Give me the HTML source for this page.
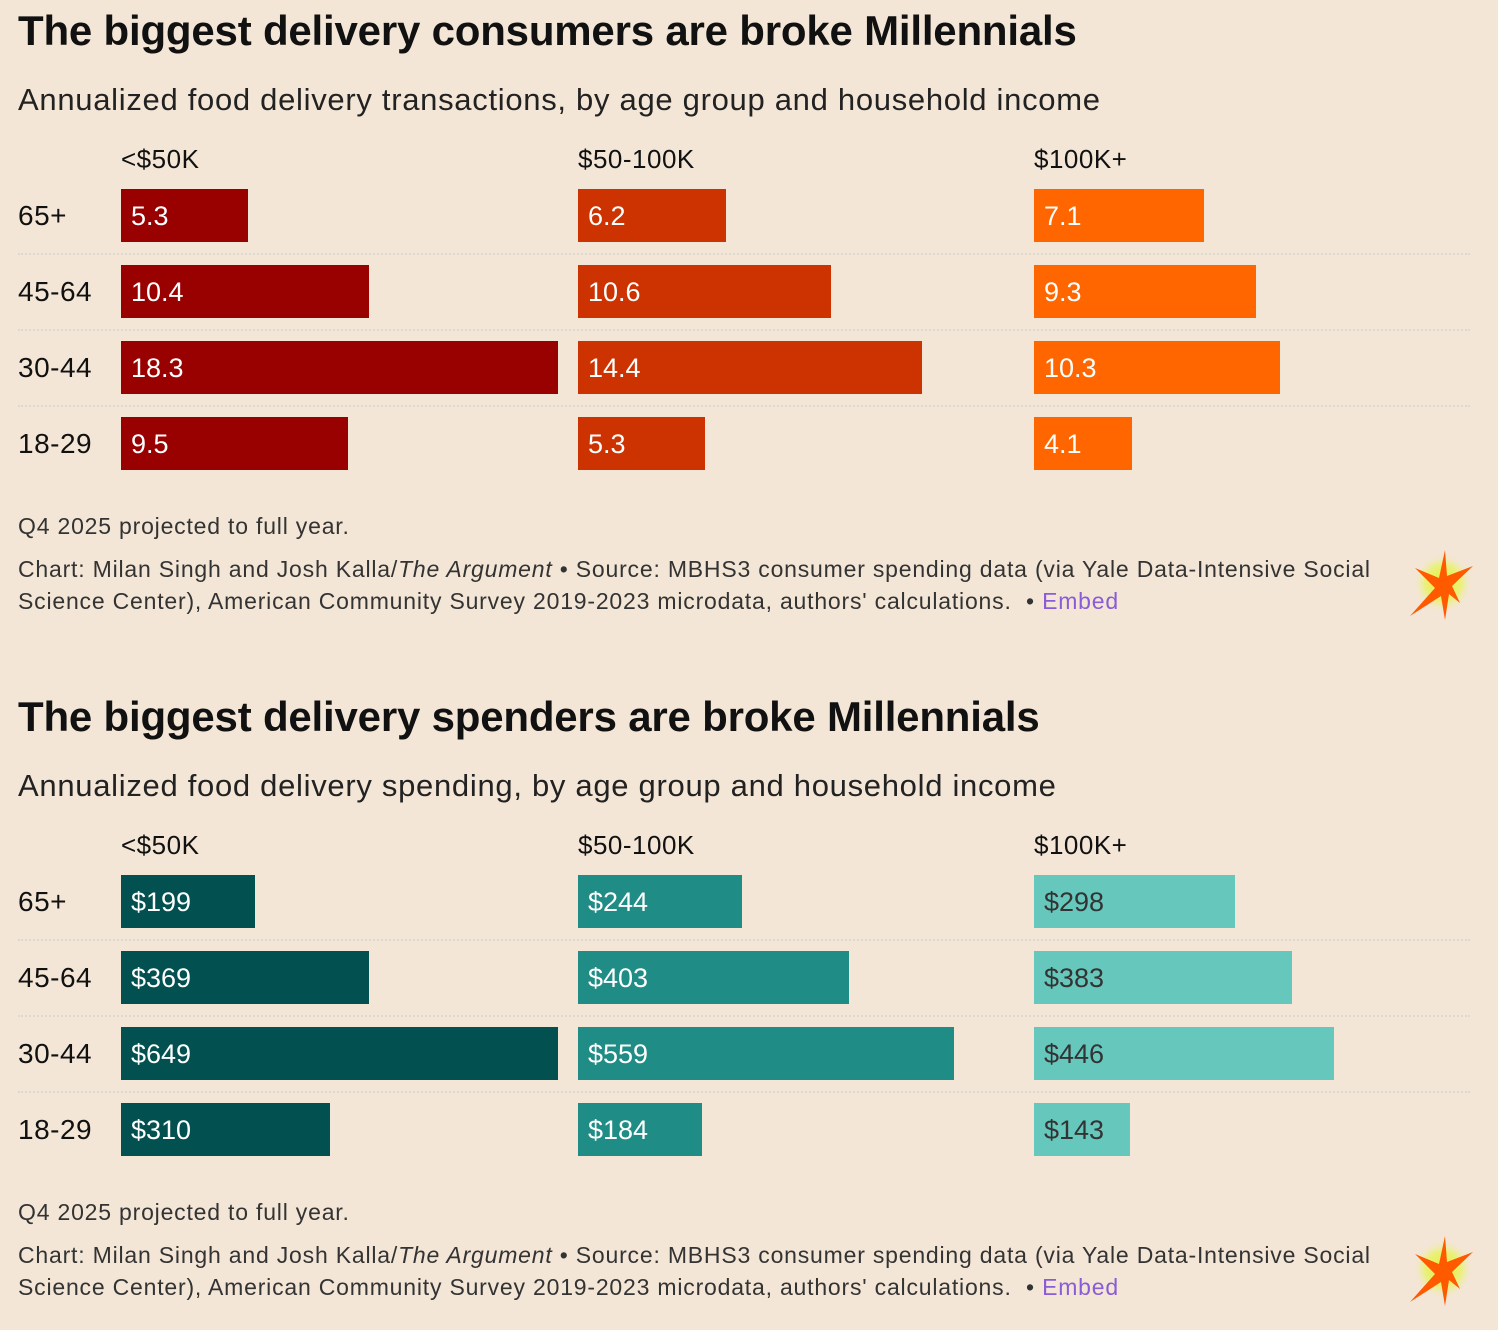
<!DOCTYPE html>
<html><head><meta charset="utf-8">
<style>
body{margin:0;width:1498px;height:1330px;background:#f3e6d6;font-family:"Liberation Sans",sans-serif;color:#111;position:relative;overflow:hidden}
.abs{position:absolute;white-space:nowrap}
h1{position:absolute;left:18px;margin:0;font-size:42px;font-weight:bold;letter-spacing:-0.2px}
.sub{position:absolute;left:18px;font-size:31px;color:#222;letter-spacing:0.7px}
.note{position:absolute;left:18px;font-size:23px;color:#333;line-height:32px;letter-spacing:0.8px}
.embed{color:#8a5cd6}
</style></head><body>
<div id="c1">
<h1 style="top:7px">The biggest delivery consumers are broke Millennials</h1>
<div class="sub" style="top:82px">Annualized food delivery transactions, by age group and household income</div>
<div class="note" style="top:510px">Q4 2025 projected to full year.</div>
<div class="note" style="top:553px">Chart: Milan Singh and Josh Kalla/<i>The Argument</i> • Source: MBHS3 consumer spending data (via Yale Data-Intensive Social<br>Science Center), American Community Survey 2019-2023 microdata, authors' calculations. &nbsp;• <span class="embed">Embed</span></div>
</div>
<div id="c2">
<h1 style="top:693px">The biggest delivery spenders are broke Millennials</h1>
<div class="sub" style="top:768px">Annualized food delivery spending, by age group and household income</div>
<div class="note" style="top:1196px">Q4 2025 projected to full year.</div>
<div class="note" style="top:1239px">Chart: Milan Singh and Josh Kalla/<i>The Argument</i> • Source: MBHS3 consumer spending data (via Yale Data-Intensive Social<br>Science Center), American Community Survey 2019-2023 microdata, authors' calculations. &nbsp;• <span class="embed">Embed</span></div>
</div>
<svg class="abs" style="left:1405px;top:548px" width="75" height="72"><defs><radialGradient id="g"><stop offset="0" stop-color="#e2f03a"/><stop offset="0.6" stop-color="#eaf07a"/><stop offset="1" stop-color="#f3e6d6" stop-opacity="0"/></radialGradient></defs><circle cx="38" cy="35" r="30" fill="url(#g)"/><polygon points="40,2 42,28 68,18 47,38 55,55 44,46 40,72 36,48 5,68 30,40 10,20 34,30" fill="#ff5a00"/></svg>
<svg class="abs" style="left:1405px;top:1234px" width="75" height="72"><circle cx="38" cy="35" r="30" fill="url(#g)"/><polygon points="40,2 42,28 68,18 47,38 55,55 44,46 40,72 36,48 5,68 30,40 10,20 34,30" fill="#ff5a00"/></svg>
<script>
const ages=["65+","45-64","30-44","18-29"];
const incomes=["<$50K","$50-100K","$100K+"];
const transactions=[[5.3,10.4,18.3,9.5],[6.2,10.6,14.4,5.3],[7.1,9.3,10.3,4.1]];
const spending=[[199,369,649,310],[244,403,559,184],[298,383,446,143]];
function build(root,offY,data,maxV,colors,textColors,fmt){
  const colX=[121,578,1034], maxW=437;
  const x=v=>v/maxV*maxW;
  const rowY=i=>offY+189+i*76;
  incomes.forEach((inc,c)=>{
    const h=document.createElement('div');h.className='abs';
    
    
    h.style.cssText=`left:${colX[c]}px;top:${offY+144}px;font-size:26px;letter-spacing:0.5px`;h.textContent=inc;root.appendChild(h);
  });
  ages.forEach((a,i)=>{
    const l=document.createElement('div');l.className='abs';
    
    
    l.style.cssText=`left:18px;top:${rowY(i)+11}px;font-size:28px;letter-spacing:0.5px`;l.textContent=a;root.appendChild(l);
    if(i<3){const d=document.createElement('div');d.className='abs';
      
      
      d.style.cssText=`left:18px;width:1452px;top:${rowY(i)+64}px;border-top:2px dotted #ddd8d0`;root.appendChild(d);}
    incomes.forEach((inc,c)=>{
      const b=document.createElement('div');b.className='abs';
      
      
      b.style.cssText=`left:${colX[c]}px;top:${rowY(i)}px;height:53px;width:${x(data[c][i])}px;background:${colors[c]};color:${textColors[c]};font-size:27px;line-height:55px;padding-left:10px;box-sizing:border-box`;
      b.textContent=fmt(data[c][i]);root.appendChild(b);
    });
  });
}
build(document.getElementById('c1'),0,transactions,18.3,["#990000","#cc3300","#ff6600"],["#fff","#fff","#fff"],v=>v.toFixed(1));
build(document.getElementById('c2'),686,spending,649,["#02504f","#1f8c85","#66c8bd"],["#fff","#fff","#333"],v=>"$"+v);
</script>
</body></html>
